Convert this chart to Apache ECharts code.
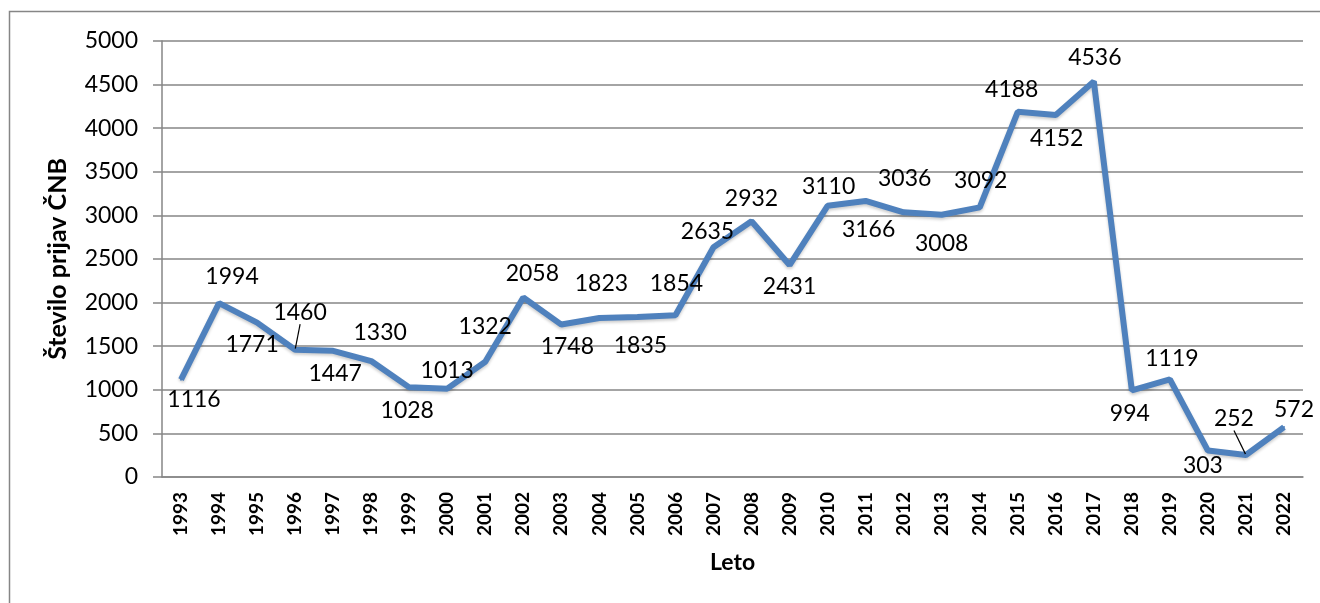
<!DOCTYPE html>
<html>
<head>
<meta charset="utf-8">
<title>Število prijav ČNB</title>
<script src="https://cdn.jsdelivr.net/npm/echarts@6/dist/echarts.min.js"></script>
<style>
  html, body { margin: 0; padding: 0; background: #fff; }
  #main { width: 1320px; height: 603px; }
</style>
</head>
<body>
<div id="main"></div>
<script>
// leta
const years = ['1993', '1994', '1995', '1996', '1997', '1998', '1999', '2000', '2001', '2002',
    '2003', '2004', '2005', '2006', '2007', '2008', '2009', '2010', '2011', '2012',
    '2013', '2014', '2015', '2016', '2017', '2018', '2019', '2020', '2021', '2022'];
// število prijav
const counts = [1116, 1994, 1771, 1460, 1447, 1330, 1028, 1013, 1322, 2058,
    1748, 1823, 1835, 1854, 2635, 2932, 2431, 3110, 3166, 3036,
    3008, 3092, 4188, 4152, 4536, 994, 1119, 303, 252, 572];
const yTicks = [0, 500, 1000, 1500, 2000, 2500, 3000, 3500, 4000, 4500, 5000];

// zamik oznak glede na točko (kot v Excelu)
const labelShift = [[13, 20], [13, -27], [-5, 22], [5, -37], [2, 23], [9, -28], [-2, 23], [0, -18], [0, -35], [9, -24],
    [6, 22], [2, -34], [3, 29], [1, -32], [-6, -16], [0, -23], [0, 22], [1, -19], [3, 29], [1, -34],
    [0, 29], [1, -27], [-6, -22], [1, 24], [1, -24], [-2, 23], [2, -21], [-5, 15], [-12, -36], [10, -18]];
const withLeader = [3, 28];

const font = 'Lato, "Open Sans", sans-serif';
const grey = '#868686';

const chart = echarts.init(document.getElementById('main'));

chart.setOption({
    animation: false,
    graphic: [{
        type: 'polyline',
        shape: { points: [[9.5, 603], [9.5, 11.5], [1320, 11.5]] },
        style: { stroke: grey, lineWidth: 1.5, fill: null }
    }],
    grid: {
        left: 162,
        right: 17,
        top: 41,
        bottom: 126
    },
    xAxis: {
        type: 'category',
        data: years,
        boundaryGap: true,
        name: 'Leto',
        nameLocation: 'middle',
        nameGap: 74,
        nameTextStyle: { fontFamily: font, fontWeight: 'bold', fontSize: 23, color: '#000' },
        axisLine: { lineStyle: { color: grey, width: 1.5 } },
        axisTick: { alignWithLabel: false, length: 7, lineStyle: { color: grey, width: 1.5 } },
        axisLabel: {
            rotate: 90,
            margin: 15,
            fontFamily: font,
            fontWeight: 'bold',
            fontSize: 19,
            color: '#000'
        }
    },
    yAxis: {
        type: 'value',
        min: 0,
        max: 5000,
        interval: 500,
        name: 'Število prijav ČNB',
        nameLocation: 'middle',
        nameGap: 92,
        nameRotate: 90,
        nameTextStyle: { fontFamily: font, fontWeight: 'bold', fontSize: 25, color: '#000' },
        axisLine: { show: true, lineStyle: { color: grey, width: 1.5 } },
        axisTick: { show: true, length: 9, lineStyle: { color: grey, width: 1.5 } },
        axisLabel: {
            margin: 24,
            fontFamily: font,
            fontSize: 23,
            color: '#000',
            formatter: v => yTicks.includes(v) ? String(v) : ''
        },
        splitLine: { lineStyle: { color: grey, width: 1.5 } }
    },
    series: [{
        type: 'line',
        data: counts.map((v, i) => ({
            value: v,
            labelLine: { show: withLeader.includes(i), lineStyle: { color: '#000', width: 1.2 } }
        })),
        symbol: 'circle',
        symbolSize: 2,
        itemStyle: { color: '#4F81BD' },
        lineStyle: {
            color: '#4F81BD',
            width: 6,
            shadowColor: 'rgba(0,0,0,0.2)',
            shadowBlur: 3,
            shadowOffsetY: 2
        },
        label: {
            show: true,
            position: 'inside',
            fontFamily: font,
            fontSize: 23,
            color: '#000'
        },
        labelLayout: params => ({
            dx: labelShift[params.dataIndex][0],
            dy: labelShift[params.dataIndex][1]
        }),
        labelLine: { show: false, lineStyle: { color: '#000', width: 1.2 } }
    }]
});
</script>
</body>
</html>
